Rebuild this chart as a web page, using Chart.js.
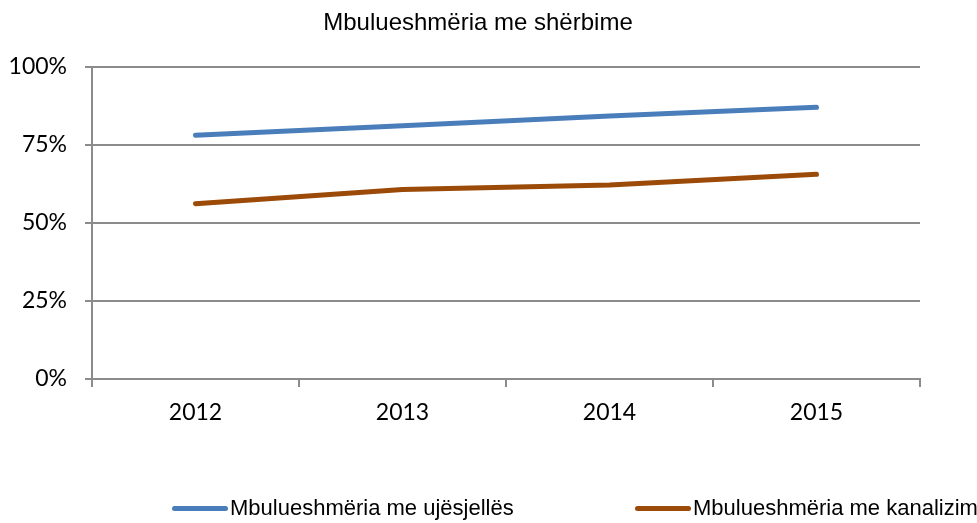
<!DOCTYPE html>
<html><head><meta charset="utf-8">
<script src="https://cdn.jsdelivr.net/npm/chart.js@4/dist/chart.umd.min.js"></script>
<style>
html,body{margin:0;padding:0;background:#fff;}
#wrap{position:relative;width:977px;height:523px;}
#title{position:absolute;top:7px;left:0;width:956px;text-align:center;font-family:'Liberation Sans Narrow','Arial Narrow',sans-serif;font-size:24px;line-height:29px;color:#000;}
#legend{position:absolute;top:494px;left:0;width:977px;height:28px;font-family:'Liberation Sans Narrow','Arial Narrow',sans-serif;font-size:22px;color:#000;}
.li{position:absolute;top:0;display:flex;align-items:center;height:28px;white-space:nowrap;}
.sw{display:inline-block;width:56px;height:5px;border-radius:3px;margin-right:2px;}
</style></head>
<body>
<div id="wrap"><canvas id="c" width="977" height="523"></canvas>
<div id="title"></div>
<div id="legend"></div></div>
<script>
const categories = ['2012','2013','2014','2015'];
const seriesNames = ['Mbulueshmëria me ujësjellës','Mbulueshmëria me kanalizim'];
const waterSupply = [0.781, 0.812, 0.843, 0.871];
const sewerage = [0.562, 0.607, 0.622, 0.656];
const yTicks = [0, 0.25, 0.5, 0.75, 1];
const colors = ['#4a7ebb', '#9c4a08'];
const title = 'Mbulueshmëria me shërbime';

document.getElementById('title').textContent = title;
const lg = document.getElementById('legend');
const lefts = [172, 635];
seriesNames.forEach((n,i)=>{
  const d=document.createElement('div');d.className='li';d.style.left=lefts[i]+'px';
  d.innerHTML='<span class="sw" style="background:'+colors[i]+'"></span><span>'+n+'</span>';
  lg.appendChild(d);
});

new Chart(document.getElementById('c'), {
  type:'line',
  data:{labels:categories,datasets:[
    {label:seriesNames[0],data:waterSupply,borderColor:colors[0],backgroundColor:colors[0],borderWidth:5,pointRadius:0,borderCapStyle:'round',borderJoinStyle:'round',tension:0},
    {label:seriesNames[1],data:sewerage,borderColor:colors[1],backgroundColor:colors[1],borderWidth:5,pointRadius:0,borderCapStyle:'round',borderJoinStyle:'round',tension:0}
  ]},
  options:{
    responsive:false,animation:false,
    layout:{padding:{left:0,right:57,top:67,bottom:0}},
    plugins:{
      legend:{display:false},tooltip:{enabled:false},title:{display:false}
    },
    scales:{
      x:{offset:true,
        grid:{offset:true,drawOnChartArea:false,drawTicks:true,tickLength:8,color:'#8c8c8c',lineWidth:2},
        border:{display:true,color:'#8c8c8c',width:2},
        ticks:{color:'#000',font:{family:'Lato, sans-serif',size:23},padding:12,maxRotation:0},
        afterFit:s=>{s.height=144;}
      },
      y:{min:0,max:1,
        afterBuildTicks:s=>{s.ticks=yTicks.map(v=>({value:v}));},
        grid:{color:'#8c8c8c',lineWidth:2,tickLength:7},
        border:{display:true,color:'#8c8c8c',width:2},
        ticks:{color:'#000',font:{family:'Lato, sans-serif',size:23},padding:18,callback:v=>Math.round(v*100)+'%'},
        afterFit:s=>{s.width=92;}
      }
    }
  }
});
</script>
</body></html>
